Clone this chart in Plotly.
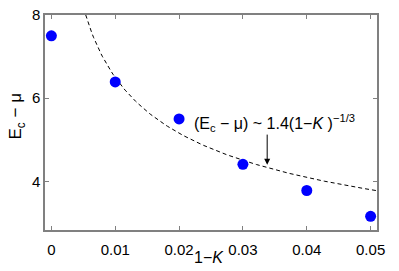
import numpy as np
import plotly.graph_objects as go

# Data
one_minus_K = [0.0, 0.01, 0.02, 0.03, 0.04, 0.05]
gap_values = [7.5, 6.39, 5.5, 4.41, 3.78, 3.16]

# Fit shown in the chart: (Ec - mu) ~ 1.4 (1-K)^(-1/3)
fit_coef = 1.4
fit_exp = -1.0 / 3.0
fit_x = np.linspace(0.004, 0.051, 200)
fit_y = fit_coef * fit_x ** fit_exp

x_tickvals = [0, 0.01, 0.02, 0.03, 0.04, 0.05]
x_ticktext = ["0", "0.01", "0.02", "0.03", "0.04", "0.05"]
y_tickvals = [4, 6, 8]
y_ticktext = ["4", "6", "8"]

FONT = "Liberation Sans, Arial, Helvetica, sans-serif"
AXIS_COLOR = "#808080"

fig = go.Figure()
fig.add_trace(go.Scatter(
    x=fit_x, y=fit_y, mode="lines",
    line=dict(color="black", width=1, dash="4px,3px"),
    hoverinfo="skip", showlegend=False,
))
fig.add_trace(go.Scatter(
    x=one_minus_K, y=gap_values, mode="markers",
    marker=dict(color="#0000ff", size=11, line=dict(width=0)),
    showlegend=False, cliponaxis=False,
))

fig.add_annotation(
    x=0.0221, y=5.40, xref="x", yref="y",
    text="(E<sub>c</sub> − μ) ~ 1.4(1−<i>K</i> )<sup>−1/3</sup>",
    showarrow=False, xanchor="left", yanchor="middle",
    font=dict(family=FONT, size=16, color="black"),
)
fig.add_annotation(
    x=0.0338, y=4.40, xref="x", yref="y",
    ax=0.0338, ay=5.16, axref="x", ayref="y",
    text="", showarrow=True, arrowhead=2, arrowsize=1.2, arrowwidth=1,
    arrowcolor="black",
)
# Axis titles
fig.add_annotation(
    x=0.495, y=-0.128, xref="paper", yref="paper",
    text="1−<i>K</i>", showarrow=False, xanchor="center", yanchor="middle",
    font=dict(family=FONT, size=16, color="black"),
)
fig.add_annotation(
    x=-0.083, y=0.53, xref="paper", yref="paper",
    text="E<sub>c</sub> − μ", showarrow=False, textangle=-90,
    xanchor="center", yanchor="middle",
    font=dict(family=FONT, size=17, color="black"),
)

# page body adds an 8px offset, so the figure is sized to fit the window
fig.update_layout(
    width=391, height=263,
    margin=dict(l=37, r=22, t=7, b=41),
    paper_bgcolor="white", plot_bgcolor="white",
    font=dict(family=FONT, size=15, color="black"),
    xaxis=dict(
        range=[-0.001, 0.051], tickvals=x_tickvals, ticktext=x_ticktext,
        showline=True, linecolor=AXIS_COLOR, linewidth=1.5, mirror="ticks",
        ticks="inside", ticklen=4, tickcolor=AXIS_COLOR, tickwidth=1,
        showgrid=False, zeroline=False, ticklabelstandoff=5, automargin=False,
        ticklabeloverflow="allow",
    ),
    yaxis=dict(
        range=[2.83, 8], tickvals=y_tickvals, ticktext=y_ticktext,
        showline=True, linecolor=AXIS_COLOR, linewidth=1.5, mirror="ticks",
        ticks="inside", ticklen=4, tickcolor=AXIS_COLOR, tickwidth=1,
        showgrid=False, zeroline=False, ticklabelstandoff=0, automargin=False,
        ticklabeloverflow="allow",
    ),
)

fig.write_html("out.html")
